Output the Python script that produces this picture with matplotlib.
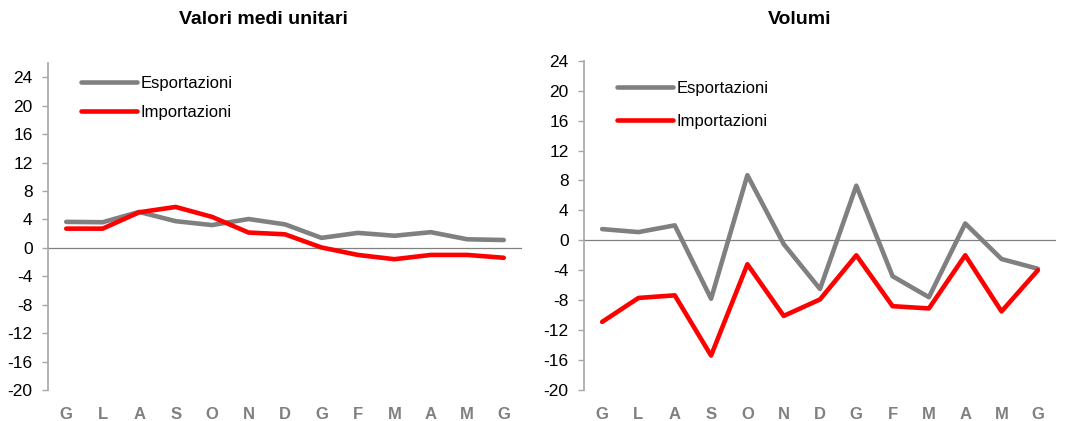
import matplotlib.pyplot as plt
import numpy as np

# --- Data ---
mesi = ["G", "L", "A", "S", "O", "N", "D", "G", "F", "M", "A", "M", "G"]

# Valori medi unitari
vmu_esp = [3.65, 3.6, 5.05, 3.75, 3.2, 4.05, 3.3, 1.4, 2.1, 1.7, 2.2, 1.2, 1.1]
vmu_imp = [2.7, 2.7, 5.0, 5.75, 4.35, 2.15, 1.9, 0.05, -1.0, -1.6, -1.0, -1.0, -1.4]

# Volumi
vol_esp = [1.5, 1.1, 2.0, -7.8, 8.7, -0.5, -6.5, 7.3, -4.8, -7.6, 2.25, -2.5, -3.8]
vol_imp = [-10.9, -7.7, -7.35, -15.4, -3.2, -10.1, -7.9, -2.0, -8.8, -9.1, -2.0, -9.5, -4.0]

plt.rcParams.update({
    "font.family": ["Liberation Sans Narrow", "Liberation Sans", "DejaVu Sans"],
    "font.size": 11,
    "axes.unicode_minus": False,
})

W, H = 1066, 421
fig = plt.figure(figsize=(W / 100, H / 100), dpi=100)


def px_axes(x0, x1, ytop, ybot):
    return fig.add_axes([x0 / W, 1 - ybot / H, (x1 - x0) / W, (ybot - ytop) / H])


ax1 = px_axes(48, 522, 63, 390)
ax2 = px_axes(584, 1056, 60.7, 390)

grey = "#808080"
red = "#ff0000"
axis_col = "#a6a6a6"


def style(ax, esp, imp, ytop, title, title_x, leg_pos, leg_space):
    x = np.arange(len(mesi))
    ax.plot(x, esp, color=grey, lw=3.3, solid_capstyle="round", solid_joinstyle="round",
            label="Esportazioni")
    ax.plot(x, imp, color=red, lw=3.3, solid_capstyle="round", solid_joinstyle="round",
            label="Importazioni")
    ax.axhline(0, color=grey, lw=0.9, zorder=0)
    ax.set_xlim(-0.5, len(mesi) - 0.5)
    ax.set_ylim(-20, ytop)
    ax.set_yticks(np.arange(-20, 25, 4))
    ax.set_xticks(x)
    ax.set_xticklabels(mesi, fontweight="bold", color=grey, fontsize=12,
                       family=["Liberation Sans", "DejaVu Sans"])
    for s in ["top", "right", "bottom"]:
        ax.spines[s].set_visible(False)
    ax.spines["left"].set_color(axis_col)
    ax.spines["left"].set_linewidth(1.2)
    ax.tick_params(axis="y", color=axis_col, length=4, width=1, pad=7, labelsize=12.5)
    ax.tick_params(axis="x", length=0, pad=12)
    ax.legend(loc="upper left", bbox_to_anchor=leg_pos, frameon=False,
              handlelength=3.4, handletextpad=0.2, labelspacing=leg_space, fontsize=12,
              borderaxespad=0)
    # title centred on the panel, placed in figure pixels
    fig.text(title_x / W, 1 - 20 / H, title, fontweight="bold", fontsize=14,
             ha="center", va="center", family=["Liberation Sans", "DejaVu Sans"])


style(ax1, vmu_esp, vmu_imp, 26, "Valori medi unitari", 263, (0.055, 0.98), 0.8)
style(ax2, vol_esp, vol_imp, 24, "Volumi", 800, (0.055, 0.96), 1.1)

plt.savefig("out.png", dpi=100)
